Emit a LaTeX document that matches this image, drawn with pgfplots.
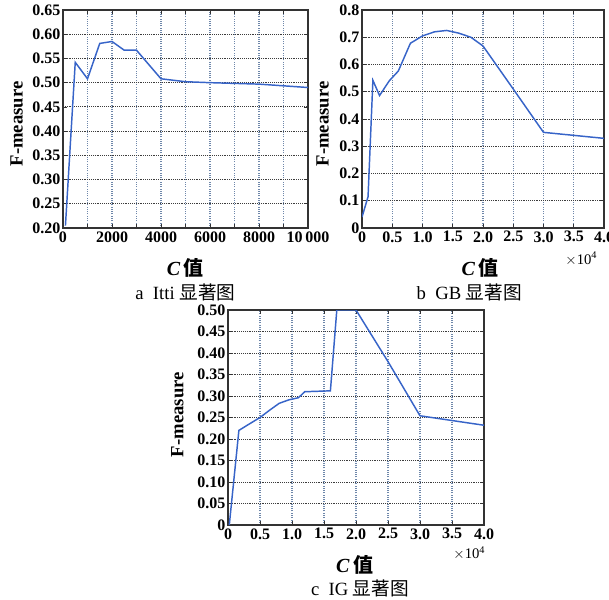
\documentclass[border=0pt]{standalone}
\usepackage{pgfplots}
\pgfplotsset{compat=1.18}
\usepackage{fontspec}
\setmainfont{Liberation Serif}
\newfontfamily\cjk{Noto Sans CJK SC}
\definecolor{lineblue}{RGB}{55,100,200}
\definecolor{gridv}{RGB}{110,135,170}
\definecolor{gridh}{RGB}{60,60,60}
\pgfplotsset{
  myax/.style={
    scale only axis,
    anchor=south west,
    axis line style={line width=0.9pt, black!80},
    tick style={black!80, line width=0.5pt},
    tick align=inside,
    major tick length=3pt,
    minor tick length=3pt,
    grid=both,
    major grid style={densely dotted, gridh, line width=0.7pt},
    minor grid style={densely dotted, gridh, line width=0.7pt},
    x grid style={densely dotted, gridv, line width=0.8pt},
    ticklabel style={font=\bfseries\fontsize{12}{12}\selectfont},
    /pgf/number format/assume math mode=true,
    scaled x ticks=false, scaled y ticks=false,
    xticklabel style={yshift=1pt},
    yticklabel style={xshift=1.5pt},
    clip=true,
  },
  myline/.style={lineblue, line width=1.1pt, no marks},
}
\begin{document}
\begin{tikzpicture}
\useasboundingbox (0pt,0pt) rectangle (456.75pt,-449.25pt);
% ---------- a ----------
\begin{axis}[myax, at={(47.25pt,-171pt)}, width=183.75pt, height=163.5pt,
  xmin=0, xmax=10000, ymin=0.2, ymax=0.65,
  xtick={0,2000,4000,6000,8000,10000},
  xticklabels={0,2000,4000,6000,8000,10\,000},
  minor xtick={1000,3000,5000,7000,9000},
  ytick={0.2,0.25,...,0.66},
  yticklabels={0.20,0.25,0.30,0.35,0.40,0.45,0.50,0.55,0.60,0.65},
  minor ytick={},
]
\addplot[myline] coordinates {
 (100,0.205) (500,0.542) (1000,0.508) (1500,0.581) (2000,0.585)
 (2500,0.567) (3000,0.567) (4000,0.508) (5000,0.502) (6000,0.500)
 (8000,0.497) (10000,0.490)};
\end{axis}
% ---------- b ----------
\begin{axis}[myax, at={(271.5pt,-171pt)}, width=181.5pt, height=163.5pt,
  xmin=0, xmax=4, ymin=0, ymax=0.8,
  xtick={0,0.5,...,4.01},
  xticklabels={0,0.5,1.0,1.5,2.0,2.5,3.0,3.5,4.0},
  ytick={0,0.1,...,0.81},
  yticklabels={0,0.1,0.2,0.3,0.4,0.5,0.6,0.7,0.8},
]
\addplot[myline] coordinates {
 (0,0.04) (0.1,0.115) (0.18,0.542) (0.29,0.486) (0.45,0.54) (0.6,0.576)
 (0.8,0.678) (1.0,0.705) (1.2,0.72) (1.4,0.725) (1.6,0.715) (1.8,0.70)
 (2.0,0.668) (2.5,0.51) (3.0,0.351) (3.5,0.34) (4.0,0.329)};
\end{axis}
% ---------- c ----------
\begin{axis}[myax, at={(171pt,-393.75pt)}, width=192pt, height=161.25pt,
  xmin=0, xmax=4, ymin=0, ymax=0.5,
  xtick={0,0.5,...,4.01},
  xticklabels={0,0.5,1.0,1.5,2.0,2.5,3.0,3.5,4.0},
  ytick={0,0.05,...,0.51},
  yticklabels={0,0.05,0.10,0.15,0.20,0.25,0.30,0.35,0.40,0.45,0.50},
]
\addplot[myline] coordinates {
 (0.02,0) (0.17,0.220) (0.3,0.232) (0.5,0.25) (0.65,0.267) (0.8,0.283)
 (0.95,0.291) (1.1,0.296) (1.2,0.31) (1.6,0.312) (1.7,0.5) (2.0,0.5)
 (2.5,0.38) (3.0,0.254) (3.5,0.243) (4.0,0.232)};
\end{axis}
% ---------- labels ----------
\node[rotate=90, font=\bfseries\fontsize{14}{14}\selectfont] at (12.5pt,-93pt) {F-measure};
\node[rotate=90, font=\bfseries\fontsize{14}{14}\selectfont] at (242pt,-93pt) {F-measure};
\node[rotate=90, font=\bfseries\fontsize{14}{14}\selectfont] at (133pt,-311pt) {F-measure};
\node[font=\fontsize{15}{15}\selectfont] at (139pt,-201pt) {\textbf{\textit{C}}\,{\cjk\bfseries 值}};
\node[font=\fontsize{15}{15}\selectfont] at (360pt,-201pt) {\textbf{\textit{C}}\,{\cjk\bfseries 值}};
\node[font=\fontsize{15}{15}\selectfont] at (266pt,-424pt) {\textbf{\textit{C}}\,{\cjk\bfseries 值}};
\node[font=\fontsize{11}{11}\selectfont] at (436pt,-194pt) {$\times$10\textsuperscript{4}};
\node[font=\fontsize{11}{11}\selectfont] at (352pt,-415pt) {$\times$10\textsuperscript{4}};
\node[font=\fontsize{14}{14}\selectfont] at (139pt,-219pt) {a\ \ Itti {\cjk 显著图}};
\node[font=\fontsize{14}{14}\selectfont] at (352pt,-219pt) {b\ \ GB {\cjk 显著图}};
\node[font=\fontsize{14}{14}\selectfont] at (270pt,-441pt) {c\ \ IG {\cjk 显著图}};
\end{tikzpicture}
\end{document}
